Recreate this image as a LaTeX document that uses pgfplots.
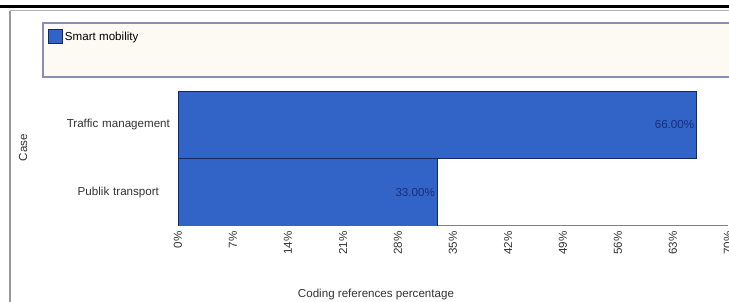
\documentclass[border=0pt]{standalone}
\usepackage{pgfplots}
\pgfplotsset{compat=1.18}
\usepackage{fontspec}
\setmainfont{Liberation Sans}
\definecolor{barblue}{RGB}{50,100,200}
\definecolor{baredge}{RGB}{25,40,100}
\definecolor{lblue}{RGB}{25,45,120}
\definecolor{legframe}{RGB}{140,140,180}
\definecolor{legfill}{RGB}{253,250,243}
\newcommand\f{\fontsize{11.6bp}{13.5bp}\selectfont}
\begin{document}
\begin{tikzpicture}
\useasboundingbox (0bp,0bp) rectangle (729bp,302bp);
\fill[white] (0bp,0bp) rectangle (729bp,302bp);
\draw[black, line width=3bp] (0bp,295.5bp) -- (729bp,295.5bp);
\draw[gray!60, line width=1bp] (10bp,291bp) -- (729bp,291bp);
\draw[gray!80, line width=1.3bp] (10bp,291bp) -- (10bp,0bp);
\draw[legframe, fill=legfill, line width=1.2bp] (43bp,279bp) rectangle (740bp,225bp);
\begin{axis}[
  at={(178bp,76bp)}, anchor=south west,
  scale only axis, width=550bp, height=135bp,
  xbar, bar width=67.5bp,
  xmin=0, xmax=70, ymin=-0.5, ymax=1.5,
  ytick={0,1}, yticklabels={Publik transport, Traffic management},
  xtick={0,7,14,21,28,35,42,49,56,63,70},
  xticklabel={\pgfmathprintnumber{\tick}\%},
  /pgf/number format/assume math mode=true,
  xticklabel style={rotate=90, anchor=east, font=\f, text=black!80},
  yticklabel style={text width=108bp, align=center, font=\f, text=black!80},
  tick style={draw=none},
  axis x line=bottom, axis y line=left,
  axis line style={-},
  x axis line style={draw=gray, line width=1bp},
  y axis line style={draw=none},
  xlabel={Coding references percentage},
  xlabel style={at={(axis description cs:0.36,0)}, anchor=center, yshift=-68bp, font=\f, text=black!80},
  ylabel={Case},
  ylabel style={at={(axis description cs:-0.2818,0.5815)}, anchor=center, rotate=0, font=\f, text=black!80},
  nodes near coords={\pgfmathprintnumber[fixed,fixed zerofill,precision=2]{\pgfplotspointmeta}\%},
  point meta=x,
  nodes near coords style={anchor=east, font=\f, text=lblue, inner sep=2bp},
  legend style={at={(axis description cs:-0.2364,1.4593)}, anchor=north west, draw=none, fill=none, font=\f, inner sep=0pt},
  legend cell align=left,
  legend image code/.code={\draw[#1] (0bp,-7bp) rectangle (14bp,7bp);},
]
\addplot[fill=barblue, draw=baredge, line width=0.8bp] coordinates {(33,0) (66,1)};
\addlegendentry{Smart mobility}
\end{axis}
\end{tikzpicture}
\end{document}
